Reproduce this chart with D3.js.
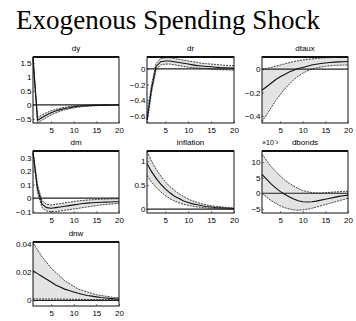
<!DOCTYPE html>
<html>
<head>
<meta charset="utf-8">
<script src="https://cdn.jsdelivr.net/npm/d3@7"></script>
<style>
  body { margin: 0; background: #fff; }
  svg { display: block; }
  .tick text { font-family: "Liberation Sans", Arial, sans-serif; font-size: 8px; }
</style>
</head>
<body>
<div id="chart"></div>
<script>
// horizon
const periods = d3.range(1, 21);

// dy
const dyUpper = [1.72, -0.45, -0.36, -0.28, -0.21, -0.16, -0.12, -0.09, -0.06, -0.04, -0.03, -0.02, -0.01, -0.005, 0, 0, 0, 0, 0, 0];
const dyMean = [1.69, -0.55, -0.45, -0.36, -0.28, -0.22, -0.17, -0.13, -0.1, -0.07, -0.05, -0.04, -0.03, -0.02, -0.015, -0.01, -0.008, -0.006, -0.004, -0.003];
const dyLower = [1.65, -0.64, -0.55, -0.45, -0.36, -0.29, -0.23, -0.18, -0.14, -0.11, -0.08, -0.06, -0.05, -0.04, -0.03, -0.02, -0.016, -0.012, -0.009, -0.007];

// dr
const drUpper = [-0.6, -0.2, 0.07, 0.13, 0.14, 0.14, 0.13, 0.12, 0.11, 0.1, 0.09, 0.08, 0.07, 0.065, 0.06, 0.055, 0.05, 0.045, 0.04, 0.04];
const drMean = [-0.65, -0.25, 0.03, 0.09, 0.1, 0.1, 0.09, 0.08, 0.07, 0.06, 0.05, 0.04, 0.035, 0.03, 0.025, 0.02, 0.015, 0.012, 0.01, 0.008];
const drLower = [-0.69, -0.3, -0.01, 0.05, 0.06, 0.06, 0.05, 0.04, 0.03, 0.02, 0.015, 0.01, 0.005, 0, -0.005, -0.01, -0.012, -0.014, -0.015, -0.016];

// dtaux
const dtUpper = [0, 0.005, 0.015, 0.025, 0.035, 0.045, 0.055, 0.065, 0.072, 0.078, 0.083, 0.088, 0.092, 0.095, 0.097, 0.099, 0.1, 0.1, 0.1, 0.1];
const dtMean = [-0.18, -0.15, -0.12, -0.09, -0.065, -0.045, -0.025, -0.01, 0.005, 0.015, 0.025, 0.035, 0.042, 0.048, 0.053, 0.057, 0.06, 0.062, 0.064, 0.065];
const dtLower = [-0.45, -0.39, -0.33, -0.27, -0.22, -0.17, -0.13, -0.09, -0.06, -0.035, -0.015, 0, 0.01, 0.018, 0.024, 0.029, 0.032, 0.034, 0.035, 0.035];

// dm
const dmUpper = [0.35, 0.1, -0.02, -0.045, -0.05, -0.045, -0.04, -0.035, -0.03, -0.025, -0.02, -0.017, -0.014, -0.012, -0.01, -0.008, -0.007, -0.006, -0.005, -0.004];
const dmMean = [0.34, 0.07, -0.045, -0.07, -0.075, -0.07, -0.065, -0.06, -0.055, -0.05, -0.045, -0.04, -0.037, -0.034, -0.032, -0.03, -0.029, -0.028, -0.027, -0.026];
const dmLower = [0.33, 0.04, -0.07, -0.095, -0.1, -0.1, -0.095, -0.09, -0.085, -0.08, -0.075, -0.07, -0.065, -0.06, -0.055, -0.05, -0.047, -0.044, -0.042, -0.04];

// inflation
const inUpper = [1.2, 1.0, 0.83, 0.69, 0.57, 0.47, 0.39, 0.32, 0.26, 0.21, 0.17, 0.14, 0.11, 0.09, 0.07, 0.06, 0.05, 0.04, 0.03, 0.025];
const inMean = [0.95, 0.78, 0.64, 0.52, 0.42, 0.34, 0.27, 0.22, 0.17, 0.14, 0.11, 0.09, 0.07, 0.055, 0.045, 0.035, 0.03, 0.025, 0.02, 0.015];
const inLower = [0.7, 0.56, 0.45, 0.36, 0.28, 0.22, 0.17, 0.13, 0.1, 0.08, 0.06, 0.045, 0.035, 0.025, 0.02, 0.015, 0.01, 0.008, 0.006, 0.005];

// dbonds (x 10^-3)
const dbUpper = [12.5, 10.5, 8.6, 7, 5.6, 4.3, 3.2, 2.3, 1.5, 0.9, 0.5, 0.2, 0.1, 0.1, 0.2, 0.3, 0.4, 0.5, 0.6, 0.7];
const dbMean = [6, 4.5, 3, 1.7, 0.6, -0.3, -1.1, -1.8, -2.4, -2.7, -2.8, -2.7, -2.5, -2.2, -1.9, -1.6, -1.3, -1, -0.8, -0.6];
const dbLower = [0, -1.2, -2.3, -3.2, -4, -4.6, -5, -5.3, -5.4, -5.3, -5.1, -4.8, -4.4, -4, -3.6, -3.2, -2.8, -2.4, -2, -1.6];

// dnw
const dnUpper = [0.041, 0.036, 0.031, 0.027, 0.023, 0.02, 0.017, 0.014, 0.012, 0.01, 0.008, 0.007, 0.006, 0.005, 0.004, 0.0035, 0.003, 0.0025, 0.002, 0.002];
const dnMean = [0.021, 0.019, 0.017, 0.015, 0.013, 0.011, 0.0095, 0.008, 0.007, 0.006, 0.005, 0.0042, 0.0035, 0.003, 0.0025, 0.002, 0.0017, 0.0014, 0.0012, 0.001];
const dnLower = [0.001, 0.001, 0.001, 0.001, 0.001, 0.001, 0.0009, 0.0009, 0.0008, 0.0008, 0.0007, 0.0007, 0.0006, 0.0006, 0.0005, 0.0005, 0.0005, 0.0005, 0.0005, 0.0005];

const titles = ['dy', 'dr', 'dtaux', 'dm', 'inflation', 'dbonds', 'dnw'];
const yDomains = [[-0.65, 1.72], [-0.69, 0.15], [-0.46, 0.104], [-0.11, 0.35], [-0.08, 1.21], [-6.3, 13.5], [-0.004, 0.0415]];
const yTicks = [[-0.5, 0, 0.5, 1, 1.5], [-0.6, -0.4, -0.2, 0], [-0.4, -0.2, 0], [-0.1, 0, 0.1, 0.2, 0.3], [0, 0.5, 1], [-5, 0, 5, 10], [0, 0.02, 0.04]];
const xTicks = [5, 10, 15, 20];
const bands = [
  [dyUpper, dyMean, dyLower], [drUpper, drMean, drLower], [dtUpper, dtMean, dtLower],
  [dmUpper, dmMean, dmLower], [inUpper, inMean, inLower], [dbUpper, dbMean, dbLower],
  [dnUpper, dnMean, dnLower]
];

const WIDTH = 356, HEIGHT = 321;
const colX = [33, 147, 262];
const colW = [86, 87, 86];
const rowY = [57, 151, 242];
const rowH = [66, 62, 64];

const svg = d3.select('#chart').append('svg')
  .attr('width', WIDTH).attr('height', HEIGHT);

svg.append('text')
  .attr('x', 16).attr('y', 29)
  .attr('font-family', '"Liberation Serif", "Times New Roman", serif')
  .attr('font-size', 27)
  .attr('textLength', 304)
  .text('Exogenous Spending Shock');

titles.forEach((title, i) => {
  const col = i % 3, row = Math.floor(i / 3);
  const w = colW[col], h = rowH[row];
  const g = svg.append('g').attr('transform', `translate(${colX[col]},${rowY[row]})`);
  const [upper, mean, lower] = bands[i];
  const data = periods.map((p, k) => ({ p, u: upper[k], m: mean[k], l: lower[k] }));

  const x = d3.scaleLinear().domain([1, 20]).range([0, w]);
  const y = d3.scaleLinear().domain(yDomains[i]).range([h, 0]);

  // shaded band
  g.append('path').datum(data)
    .attr('fill', '#e3e3e3')
    .attr('d', d3.area().x(d => x(d.p)).y0(d => y(d.l)).y1(d => y(d.u)));

  // zero line
  g.append('line')
    .attr('x1', 0).attr('x2', w)
    .attr('y1', y(0)).attr('y2', y(0))
    .attr('stroke', '#222').attr('stroke-width', 1.2);

  // bounds and mean
  [['u', 0.8, '2,1'], ['l', 0.8, '2,1'], ['m', 1.1, null]].forEach(([k, sw, dash]) => {
    g.append('path').datum(data)
      .attr('fill', 'none')
      .attr('stroke', '#111')
      .attr('stroke-width', sw)
      .attr('stroke-dasharray', dash)
      .attr('d', d3.line().x(d => x(d.p)).y(d => y(d[k])));
  });

  // axes
  const ax = g.append('g').attr('transform', `translate(0,${h})`)
    .call(d3.axisBottom(x).tickValues(xTicks).tickSize(-2).tickPadding(4));
  const ay = g.append('g')
    .call(d3.axisLeft(y).tickValues(yTicks[i]).tickSize(-2).tickPadding(1.5).tickFormat(d3.format('')));
  [ax, ay].forEach(a => {
    a.select('.domain').remove();
    a.selectAll('line').attr('stroke', '#333').attr('stroke-width', 0.6);
  });

  // box
  g.append('rect')
    .attr('width', w).attr('height', h)
    .attr('fill', 'none').attr('stroke', '#111').attr('stroke-width', 1);
  g.append('line')
    .attr('x1', 0).attr('x2', w).attr('y1', 0).attr('y2', 0)
    .attr('stroke', '#111').attr('stroke-width', 2);

  // title
  g.append('text')
    .attr('x', w / 2).attr('y', -6.5)
    .attr('text-anchor', 'middle')
    .attr('font-family', '"Liberation Sans", Arial, sans-serif')
    .attr('font-size', 8)
    .text(title);

  if (title === 'dbonds') {
    g.append('text')
      .attr('x', 0).attr('y', -6)
      .attr('font-family', '"Liberation Sans", Arial, sans-serif')
      .attr('font-size', 7)
      .text('×10⁻³');
  }
});
</script>
</body>
</html>
